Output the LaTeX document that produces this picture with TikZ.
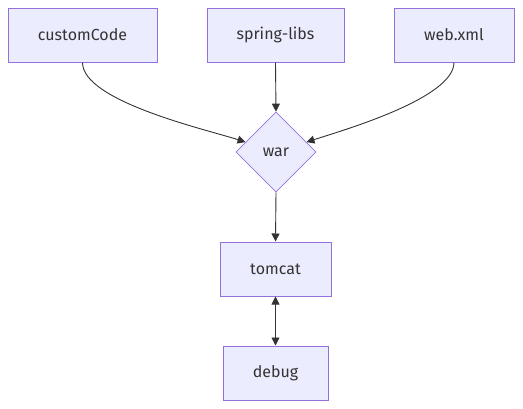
\documentclass[tikz,border=0pt]{standalone}
\usepackage{fontspec}
\setmainfont{Fira Sans}
\usetikzlibrary{shapes.geometric, arrows.meta}
\definecolor{boxfill}{HTML}{ECECFF}
\definecolor{boxline}{HTML}{9370DB}
\definecolor{edgeline}{HTML}{333333}
\definecolor{textcol}{HTML}{333333}

\begin{document}
\begin{tikzpicture}[x=1pt, y=-1pt,
    box/.style={draw=boxline, fill=boxfill, line width=1pt, minimum height=54pt, inner sep=0pt,
      text=textcol, font=\fontsize{16}{19}\selectfont},
    decision/.style={diamond, draw=boxline, fill=boxfill, line width=0.7pt, minimum size=80pt, inner sep=0pt,
      text=textcol, font=\fontsize{16}{19}\selectfont},
    flow/.style={draw=edgeline, line width=0.9pt, -{Triangle[length=8pt, width=8pt]}}]
    \useasboundingbox (0,0) rectangle (523,408);
    \node[box, minimum width=149pt] (custom) at (82.5,35) {customCode};
    \node[box, minimum width=137pt] (spring) at (275.5,35) {spring-libs};
    \node[box, minimum width=120pt] (webxml) at (454,35) {web.xml};
    \node[decision] (war) at (276,152) {war};
    \node[box, minimum width=111pt] (tomcat) at (275.5,269) {tomcat};
    \node[box, minimum width=105pt] (debug) at (275.5,373) {debug};
    \draw[flow] (custom.south) to[out=-90, in=162, looseness=0.55] (war.162);
    \draw[flow] (spring.south) -- (war.north);
    \draw[flow] (webxml.south) to[out=-90, in=18, looseness=0.55] (war.18);
    \draw[flow] (war.south) -- (tomcat.north);
    \draw[flow, {Triangle[length=8pt, width=8pt]}-{Triangle[length=8pt, width=8pt]}] (tomcat.south) -- (debug.north);
\end{tikzpicture}
\end{document}
